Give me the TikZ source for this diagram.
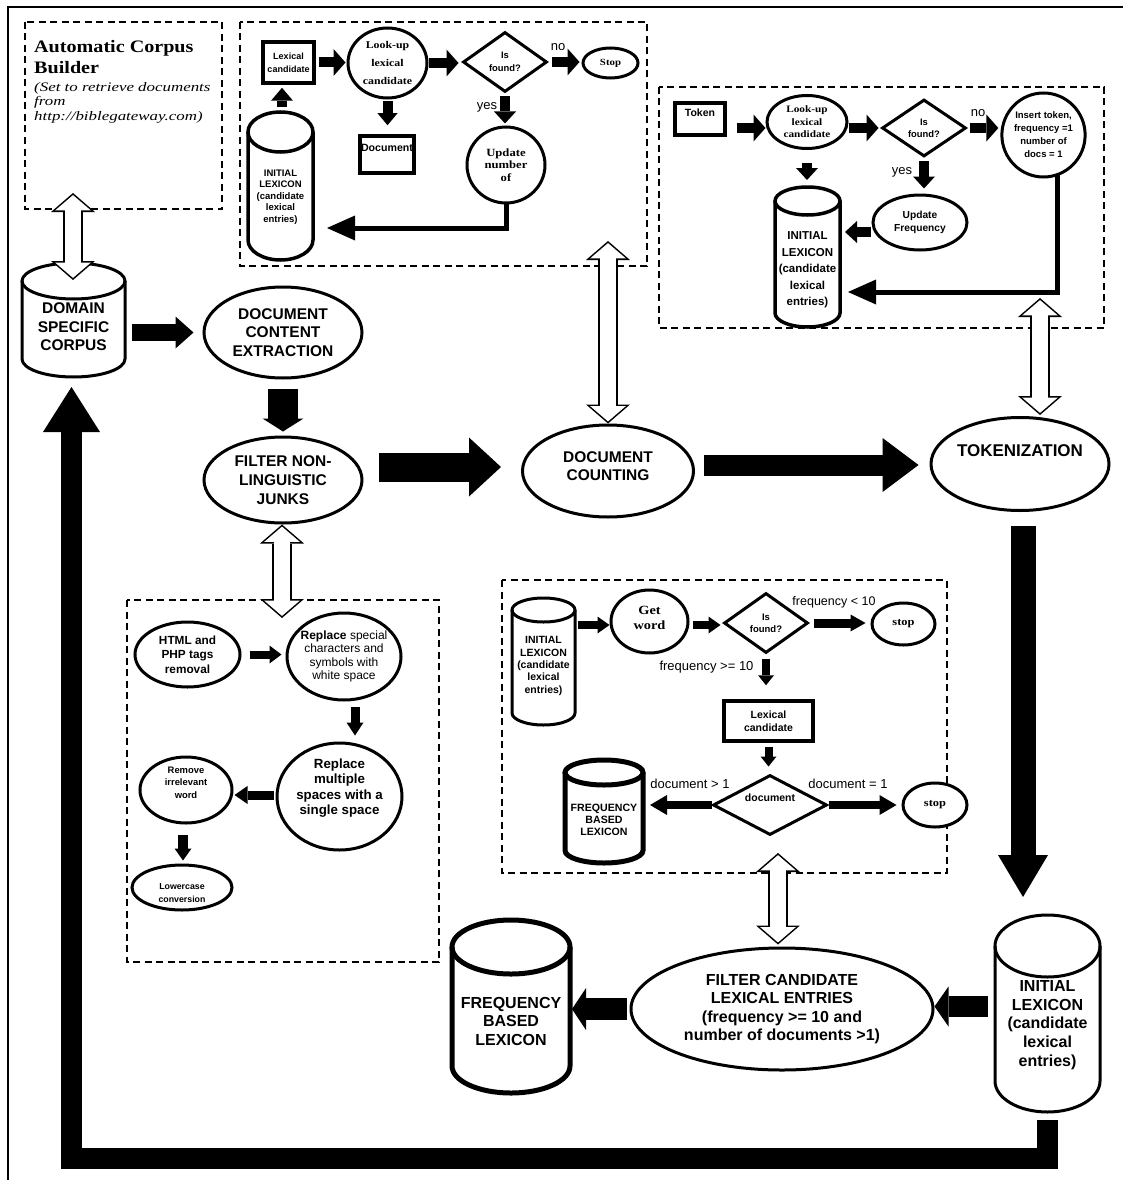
\documentclass[tikz,border=0pt]{standalone}
\usepackage{fontspec}
\setmainfont{Liberation Sans}
\newfontfamily\sers[FakeStretch=1.15]{Liberation Serif}
\newfontfamily\seri[FakeStretch=1.3]{Liberation Serif}
\usetikzlibrary{shapes.geometric,arrows.meta,calc}
\newcommand{\fsz}[2]{\fontsize{#1}{#2}\selectfont}
% cylinder drawn round a placeholder node: name, width, end radius, line width
\newcommand{\cyl}[4]{%
  \draw[line width=#4, fill=white] ($(#1.north west)+(0,#3)$) -- ($(#1.south west)+(0,-#3)$)
     arc[start angle=180, end angle=0, x radius=#2/2, y radius=#3] -- ($(#1.north east)+(0,#3)$);
  \draw[line width=#4] ($(#1.north)+(0,#3)$) ellipse [x radius=#2/2, y radius=#3];
}
% white outlined double arrow
\newcommand{\wdarrow}[2]{%
  \draw[line width=20pt, {Triangle[width=44pt,length=19pt,line width=0pt]}-{Triangle[width=44pt,length=19pt,line width=0pt]}] #1 -- #2;
  \draw[white, line width=16.8pt, {Triangle[width=35.6pt,length=15.3pt,line width=0pt]}-{Triangle[width=35.6pt,length=15.3pt,line width=0pt]}, shorten <=2.1pt, shorten >=2.1pt] #1 -- #2;
}
\tikzset{
  ell/.style={ellipse, draw, line width=3pt, fill=white, inner sep=0pt, align=center},
  rbox/.style={rectangle, draw, line width=3.5pt, fill=white, inner sep=0pt, align=center},
  dia/.style={diamond, draw, line width=3pt, fill=white, inner sep=0pt, align=center},
  ph/.style={rectangle, inner sep=0pt, outer sep=0pt},
  txt/.style={inner sep=0pt, align=center},
  lbl/.style={inner sep=0pt},
  dbox/.style={line width=1.8pt, dash pattern=on 7pt off 4.5pt},
  barrow/.style n args={3}{line width=#1, -{Triangle[width=#2, length=#3, line width=0pt]}},
}
\begin{document}
\begin{tikzpicture}[x=1pt,y=-1pt]
\useasboundingbox (0,0) rectangle (1123,1180);
\fill[white] (0,0) rectangle (1123,1180);
% frame
\draw[line width=1.2pt] (8,1180) -- (8,7) -- (1123,7);
% dashed groups
\draw[dbox] (25,22) rectangle (222,209);
\draw[dbox] (240,22) rectangle (647,266);
\draw[dbox] (659,87) rectangle (1104,328);
\draw[dbox] (127,600) rectangle (439,962);
\draw[dbox] (502,580) rectangle (947,873);

% ---- box A
\node[lbl, anchor=north west, align=left, font=\sers\bfseries\fsz{17.5}{21.5}] (title) at (34,40) {Automatic Corpus\\Builder};
\node[lbl, anchor=north west, align=left, font=\seri\itshape\fsz{13}{14.5}] (subt) at (34,82) {(Set to retrieve documents\\from\\http://biblegateway.com)};

% ---- box B
\node[rbox, minimum width=51, minimum height=41, font=\bfseries\fsz{9}{13}] (lc1) at (288.5,62.5) {Lexical\\candidate};
\node[ell, minimum width=79, minimum height=70, font=\sers\bfseries\fsz{10.3}{18}] (lu1) at (387.5,63) {Look-up\\lexical\\candidate};
\node[dia, minimum width=84, minimum height=60, font=\bfseries\fsz{9.4}{13}] (isf1) at (505,62) {Is\\found?};
\node[lbl, font=\fsz{13}{13}] (no1) at (558,47) {no};
\node[ell, minimum width=55, minimum height=30, font=\sers\bfseries\fsz{9.4}{11}] (stop1) at (610.5,63) {Stop};
\node[lbl, font=\fsz{13}{13}] (yes1) at (487,107) {yes};
\node[ell, minimum width=78, minimum height=76, font=\sers\bfseries\fsz{11}{12.5}] (upd1) at (506,165) {Update\\number\\of};
\node[rbox, minimum width=54, minimum height=37] (doc1) at (387,154.5) {};
\node[txt, font=\bfseries\fsz{10.6}{12}] (doc1t) at (387,148) {Document};
\node[ph, minimum width=65, minimum height=148] (il1) at (280.5,186) {};
\cyl{il1}{65}{20}{3.5pt}
\node[txt, font=\bfseries\fsz{9.5}{11.5}] (il1t) at (280.5,197) {INITIAL\\LEXICON\\(candidate\\lexical\\entries)};

\draw[barrow={10pt}{27pt}{12pt}, shorten <=3pt, shorten >=1pt] (lc1.east) -- (lc1.east -| lu1.west);
\draw[barrow={10pt}{27pt}{12pt}, shorten >=3pt] (lu1.east) -- (lu1.east -| isf1.west);
\draw[barrow={10pt}{27pt}{12pt}, shorten <=3pt, shorten >=2pt] (isf1.east) -- (isf1.east -| stop1.west);
\draw[barrow={10pt}{22pt}{12pt}, shorten <=3pt, shorten >=2pt] (isf1.south) -- (isf1.south |- upd1.north);
\draw[barrow={10pt}{20pt}{12pt}, shorten <=2pt, shorten >=9pt] (lu1.south) -- (lu1.south |- doc1.north);
\draw[barrow={10pt}{22pt}{13pt}, shorten <=5pt, shorten >=3pt] ($(il1.north)+(1.5,0)$) coordinate (a1) -- (a1 |- lc1.south);
\draw[line width=5pt, -{Triangle[width=25pt,length=28pt,line width=0pt]}] ($(upd1.south)+(0,-3)$) |- ($(il1.east)+(14,42)$);

% ---- box C
\node[rbox, minimum width=50, minimum height=32] (tok) at (700,119) {};
\node[txt, font=\bfseries\fsz{10.5}{12}] (tokt) at (700,113) {Token};
\node[ell, minimum width=80, minimum height=53, font=\sers\bfseries\fsz{9.8}{12.5}] (lu2) at (807,122) {Look-up\\lexical\\candidate};
\node[dia, minimum width=84, minimum height=57, font=\bfseries\fsz{9.4}{12}] (isf2) at (924,128) {Is\\found?};
\node[lbl, font=\fsz{13}{13}] (no2) at (978,113) {no};
\node[ell, minimum width=83, minimum height=84, font=\bfseries\fsz{9.5}{13}] (ins) at (1043.5,135) {Insert token,\\frequency =1\\number of\\docs = 1};
\node[lbl, font=\fsz{13}{13}] (yes2) at (902,172) {yes};
\node[ell, minimum width=94, minimum height=55, font=\bfseries\fsz{10.2}{13}] (updf) at (920,222.5) {Update\\Frequency};
\node[ph, minimum width=65, minimum height=140] (il2) at (807.5,257) {};
\cyl{il2}{65}{14}{3.5pt}
\node[txt, font=\bfseries\fsz{11.5}{16.5}] (il2t) at (807.5,270) {INITIAL\\LEXICON\\(candidate\\lexical\\entries)};

\draw[barrow={10pt}{27pt}{12pt}, shorten <=10pt, shorten >=0pt] (tok.east |- isf2.west) -- (lu2.west |- isf2.west);
\draw[barrow={10pt}{27pt}{12pt}, shorten >=2pt] (lu2.east |- isf2.west) -- (isf2.west);
\draw[barrow={10pt}{27pt}{12pt}, shorten <=2pt, shorten >=2pt] (isf2.east) -- (isf2.east -| ins.west);
\draw[barrow={10pt}{22pt}{12pt}, shorten <=13pt, shorten >=7pt] (lu2.south) -- (lu2.south |- il2.north);
\draw[barrow={10pt}{22pt}{12pt}, shorten <=3pt, shorten >=5pt] (isf2.south) -- (isf2.south |- updf.north);
\draw[barrow={10pt}{22pt}{12pt}, shorten <=1pt, shorten >=5pt] ($(updf.west)+(0,9.5)$) coordinate (a2) -- (a2 -| il2.east);
\draw[line width=5pt, -{Triangle[width=25pt,length=28pt,line width=0pt]}] ($(ins.south)+(13.5,-4)$) |- ($(il2.east)+(8,35)$);

% ---- main pipeline
\node[ph, minimum width=103, minimum height=114] (corpus) at (73.5,320) {};
\cyl{corpus}{103}{18}{3pt}
\node[txt, font=\bfseries\fsz{15.5}{18.5}] (corpust) at (73.5,327) {DOMAIN\\SPECIFIC\\CORPUS};
\node[ell, minimum width=158, minimum height=91, font=\bfseries\fsz{15.5}{18.5}] (dce) at (283,332.5) {DOCUMENT\\CONTENT\\EXTRACTION};
\node[ell, minimum width=158, minimum height=86, font=\bfseries\fsz{15.5}{19}] (fnl) at (283,480) {FILTER NON-\\LINGUISTIC\\JUNKS};
\node[ell, minimum width=171, minimum height=92] (dc) at (608,471) {};
\node[txt, font=\bfseries\fsz{15.5}{18.5}] (dct) at (608,466) {DOCUMENT\\COUNTING};
\node[ell, minimum width=178, minimum height=93] (tk) at (1020,464) {};
\node[txt, font=\bfseries\fsz{17}{18.5}] (tkt) at (1020,451) {TOKENIZATION};
\node[ph, minimum width=105, minimum height=197] (il3) at (1047.5,1013.5) {};
\cyl{il3}{105}{31}{3pt}
\node[txt, font=\bfseries\fsz{16}{18.75}] (il3t) at (1047.5,1025) {INITIAL\\LEXICON\\(candidate\\lexical\\entries)};
\node[ell, minimum width=302, minimum height=122, font=\bfseries\fsz{16}{18.5}] (filt) at (782,1009) {FILTER CANDIDATE\\LEXICAL ENTRIES\\(frequency >= 10 and\\number of documents >1)};
\node[ph, minimum width=118, minimum height=173] (fbl) at (511,1006.5) {};
\cyl{fbl}{118}{27}{5pt}
\node[txt, font=\bfseries\fsz{16}{18.5}] (fblt) at (511,1021) {FREQUENCY\\BASED\\LEXICON};

\draw[barrow={17pt}{32pt}{18pt}, shorten <=7pt, shorten >=9pt] (corpus.east |- dce.west) -- (dce.west);
\draw[barrow={30pt}{41pt}{13pt}, shorten <=9pt, shorten >=4pt] (dce.south) -- (fnl.north);
\draw[barrow={29pt}{59pt}{32pt}, shorten <=15pt, shorten >=20pt] ($(fnl.east)+(0,-13)$) coordinate (a3) -- (a3 -| dc.west);
\draw[barrow={21pt}{54pt}{36pt}, shorten <=9pt, shorten >=11pt] ($(dc.east)+(0,-6)$) coordinate (a4) -- (a4 -| tk.west);
\draw[barrow={25pt}{50pt}{42pt}, shorten >=18pt] ($(tk.south)+(3,14)$) coordinate (a5) -- (a5 |- il3.north);
\draw[barrow={21pt}{40pt}{14pt}, shorten <=7pt] ($(il3.west)+(0,-7)$) coordinate (a6) -- (a6 -| filt.east);
\draw[barrow={22pt}{42pt}{14pt}, shorten <=3pt, shorten >=2pt] (filt.west) -- (filt.west -| fbl.east);
\draw[line width=21pt, -{Triangle[width=57pt,length=45pt,line width=0pt]}] ($(il3.south)+(0,8)$) |- ($(corpus.south)+(-2,781.5)$) -- ($(corpus.south)+(-2,10)$);

% ---- box D
\node[ell, minimum width=105, minimum height=65, font=\bfseries\fsz{11.8}{14.5}] (html) at (187.5,654.5) {HTML and\\PHP tags\\removal};
\node[ell, minimum width=114, minimum height=87, inner xsep=-15pt, font=\fsz{12}{13.3}] (rep1) at (344,656.5) {\textbf{Replace} special\\characters and\\symbols with\\white space};
\node[ell, minimum width=125, minimum height=107] (rep2) at (339.5,796.5) {};
\node[txt, font=\bfseries\fsz{13.3}{15.5}] (rep2t) at (339.5,788) {Replace\\multiple\\spaces with a\\single space};
\node[ell, minimum width=92, minimum height=66] (rem) at (186,790) {};
\node[txt, font=\bfseries\fsz{9.4}{12.5}] (remt) at (186,782.5) {Remove\\irrelevant\\word};
\node[ell, minimum width=100, minimum height=45] (low) at (182,887.5) {};
\node[txt, font=\bfseries\fsz{8.8}{12.5}] (lowt) at (182,893) {Lowercase\\conversion};

\draw[barrow={8pt}{18pt}{12pt}, shorten <=8pt, shorten >=4pt] (html.east) -- (html.east -| rep1.west);
\draw[barrow={9pt}{17pt}{13pt}, shorten <=5pt, shorten >=6pt] ($(rep1.south)+(11,0)$) coordinate (a7) -- (a7 |- rep2.north);
\draw[barrow={9pt}{18pt}{13pt}, shorten <=2pt, shorten >=1pt] ($(rep2.west)+(0,-1.5)$) coordinate (a8) -- (a8 -| rem.east);
\draw[barrow={10pt}{17pt}{12pt}, shorten <=10pt, shorten >=3pt] ($(rem.south)+(-3,0)$) coordinate (a9) -- (a9 |- low.north);

% ---- box E
\node[ph, minimum width=63, minimum height=127] (il4) at (543.5,661.5) {};
\cyl{il4}{63}{12}{3pt}
\node[txt, font=\bfseries\fsz{10.5}{12.4}] (il4t) at (543.5,666) {INITIAL\\LEXICON\\(candidate\\lexical\\entries)};
\node[ell, minimum width=77, minimum height=63] (gw) at (649.5,621.5) {};
\node[txt, font=\sers\bfseries\fsz{12.5}{15.7}] (gwt) at (649.5,618) {Get\\word};
\node[dia, minimum width=84, minimum height=60, font=\bfseries\fsz{9.5}{12.3}] (isf3) at (766,623) {Is\\found?};
\node[lbl, font=\fsz{12.5}{13}] (f1) at (834,602) {frequency < 10};
\node[ell, minimum width=63, minimum height=42, font=\sers\bfseries\fsz{10.8}{12}] (stop3) at (903.5,624) {stop};
\node[lbl, font=\fsz{13}{13}] (f2) at (706.5,667) {frequency >= 10};
\node[rbox, minimum width=89, minimum height=40, font=\bfseries\fsz{10.5}{13.3}] (lc3) at (768.5,721) {Lexical\\candidate};
\node[dia, minimum width=114, minimum height=60] (docd) at (770,805) {};
\node[txt, font=\bfseries\fsz{10.5}{12}] (docdt) at (770,798) {document};
\node[lbl, font=\fsz{13}{13}] (d1) at (690,784) {document > 1};
\node[lbl, font=\fsz{13}{13}] (d2) at (848,784) {document = 1};
\node[ph, minimum width=78, minimum height=103] (fbl2) at (604,811.5) {};
\cyl{fbl2}{78}{12.5}{5pt}
\node[txt, font=\bfseries\fsz{10.6}{12}] (fbl2t) at (604,820) {FREQUENCY\\BASED\\LEXICON};
\node[ell, minimum width=64, minimum height=44, font=\sers\bfseries\fsz{10.8}{12}] (stop4) at (935,805) {stop};

\draw[barrow={8pt}{17pt}{12pt}, shorten <=3pt] ($(il4.east)+(0,-36.5)$) coordinate (a10) -- (a10 -| gw.west);
\draw[barrow={8pt}{17pt}{12pt}, shorten <=3pt, shorten >=2pt] ($(gw.east)+(0,3.5)$) coordinate (a11) -- (a11 -| isf3.west);
\draw[barrow={9pt}{17pt}{15pt}, shorten <=4pt, shorten >=5pt] (isf3.east) -- (isf3.east -| stop3.west);
\draw[barrow={8pt}{16pt}{10pt}, shorten <=4pt, shorten >=14pt] (isf3.south) -- (isf3.south |- lc3.north);
\draw[barrow={8pt}{16pt}{10pt}, shorten <=4pt, shorten >=7pt] (lc3.south) -- (lc3.south |- docd.north);
\draw[barrow={8pt}{20pt}{17pt}, shorten >=7pt] (docd.west) -- (docd.west -| fbl2.east);
\draw[barrow={8pt}{20pt}{17pt}, shorten >=5pt] (docd.east) -- (docd.east -| stop4.west);

% ---- white double arrows
\coordinate (wA) at (73,193);
\coordinate (wB) at (608,241);
\coordinate (wC) at (1040,298);
\coordinate (wD) at (282,618);
\coordinate (wE) at (778,853);
\wdarrow{(wA)}{($(corpus.north)+(-0.5,17)$)}
\wdarrow{(wB)}{(dc.north)}
\wdarrow{(wC)}{($(tk.north)+(20,-1)$)}
\wdarrow{($(fnl.south)+(-1,0)$)}{(wD)}
\wdarrow{(wE)}{($(filt.north)+(-4,-2)$)}
\end{tikzpicture}
\end{document}
